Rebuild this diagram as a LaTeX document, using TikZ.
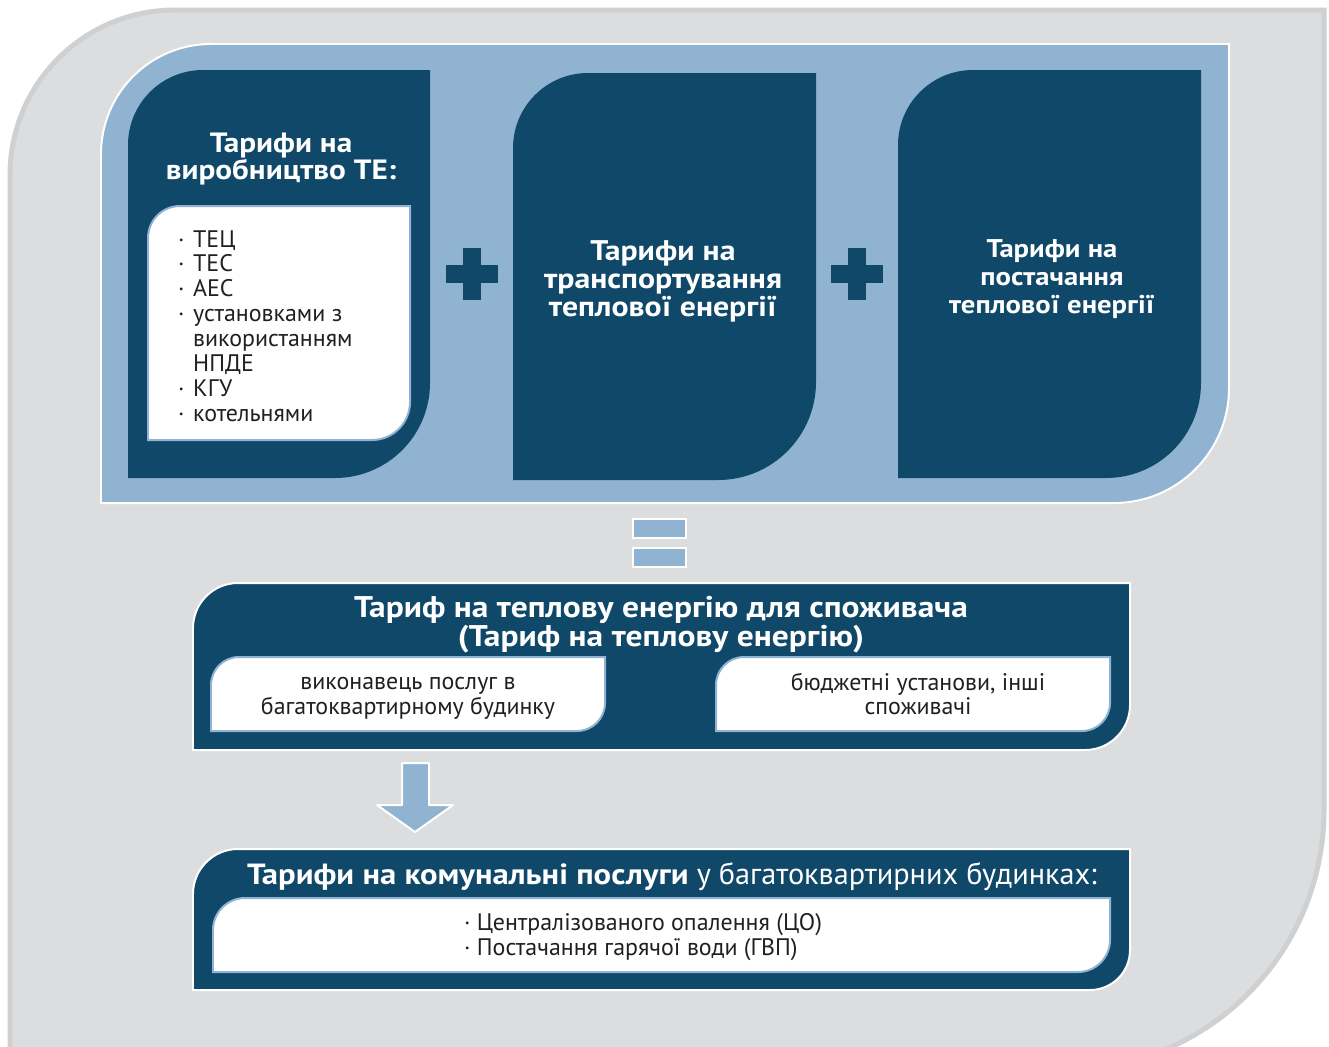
\documentclass[tikz,border=0pt]{standalone}
\usepackage{fontspec}
\setmainfont{PT Sans}
\newfontfamily\widesans[FakeStretch=1.12]{PT Sans}
\definecolor{navy}{HTML}{10486A}
\definecolor{lblue}{HTML}{8FB3D0}
\definecolor{bggrey}{HTML}{DCDDDF}
\definecolor{bgedge}{HTML}{CFD0D2}
\definecolor{ink}{HTML}{231F20}
\newcommand\cornerbox[6]{(#1,#4) -- (#1,{#2+#5}) arc[start angle=180,end angle=270,radius=#5] -- (#3,#2) -- (#3,{#4-#6}) arc[start angle=0,end angle=90,radius=#6] -- cycle}
\tikzset{
  title/.style={text=white, font=\widesans\bfseries\fontsize{28}{28}\selectfont, align=center, inner sep=0},
  body/.style={text=ink, font=\fontsize{24}{25}\selectfont, inner sep=0},
  darkbox/.style={fill=navy},
  whitebox/.style={fill=white, draw=lblue, line width=2},
  plusbar/.style={fill=navy},
  lightshape/.style={fill=lblue, draw=white, line width=2},
}
\begin{document}
\begin{tikzpicture}[x=1bp, y=-1bp]
\useasboundingbox (0,0) rectangle (1329,1046);
\clip (0,0) rectangle (1329,1046);
% background
\fill[bggrey, draw=bgedge, line width=5] \cornerbox{10}{10}{1324}{1070}{165}{260};
% light blue panel
\fill[lblue, draw=white, line width=2] \cornerbox{101}{44}{1229}{503}{110}{115};
% three dark boxes
\fill[darkbox] \cornerbox{128}{70}{430}{478}{75}{95};
\fill[darkbox] \cornerbox{513}{73}{816}{480}{75}{98};
\fill[darkbox] \cornerbox{898}{70}{1201}{478}{75}{95};
% white list box
\fill[whitebox] \cornerbox{148}{206}{410}{440}{32}{38};
% titles
\node[title] (t1) at (281,159) {Тарифи на\\виробництво ТЕ:};
\node[body, anchor=west, align=left] (l1) at (178,326) {%
\makebox[15bp][l]{·}ТЕЦ\\
\makebox[15bp][l]{·}ТЕС\\
\makebox[15bp][l]{·}АЕС\\
\makebox[15bp][l]{·}установками з\\
\hspace*{15bp}використанням\\
\hspace*{15bp}НПДЕ\\
\makebox[15bp][l]{·}КГУ\\
\makebox[15bp][l]{·}котельнями};
\node[title, font=\widesans\bfseries\fontsize{28.5}{28}\selectfont] (t2) at (663,281) {Тарифи на\\транспортування\\теплової енергії};
\node[title, font=\widesans\bfseries\fontsize{25.7}{28}\selectfont] (t3) at (1052,279) {Тарифи на\\постачання\\теплової енергії};
% plus signs
\fill[plusbar] (446,265) rectangle (498,283);
\fill[plusbar] (463,248) rectangle (481,300);
\fill[plusbar] (831,265) rectangle (883,283);
\fill[plusbar] (848,248) rectangle (866,300);
% equals
\draw[lightshape] (633,519) rectangle (686,538);
\draw[lightshape] (633,548) rectangle (686,567);
% middle dark box
\fill[darkbox, draw=white, line width=2] \cornerbox{193}{583}{1130}{750}{45}{45};
\node[title, font=\widesans\bfseries\fontsize{30}{27}\selectfont] (t4) at (661,624.5) {Тариф на теплову енергію для споживача\\(Тариф на теплову енергію)};
\fill[whitebox] \cornerbox{211}{657}{605}{731}{28}{28};
\fill[whitebox] \cornerbox{716}{657}{1110}{731}{28}{28};
\node[body, align=center] (s1) at (408,698) {виконавець послуг в\\багатоквартирному будинку};
\node[body, align=center] (s2) at (918,694) {бюджетні установи, інші\\споживачі};
% arrow
\draw[lightshape, line join=round] (402,763) -- (429,763) -- (429,805) -- (453,805) -- (415,832) -- (377,805) -- (402,805) -- cycle;
% bottom dark box
\fill[darkbox, draw=white, line width=2] \cornerbox{193}{849}{1130}{990}{45}{40};
\node[text=white, inner sep=0] (t5) at (672,877) {{\widesans\bfseries\fontsize{29.3}{30}\selectfont Тарифи на комунальні послуги}{\fontsize{30.4}{30}\selectfont\ у багатоквартирних будинках:}};
\fill[whitebox] \cornerbox{213}{898}{1110}{972}{32}{32};
\node[body, anchor=west, align=left] (s3) at (464,937) {· Централізованого опалення (ЦО)\\· Постачання гарячої води (ГВП)};
\end{tikzpicture}
\end{document}
